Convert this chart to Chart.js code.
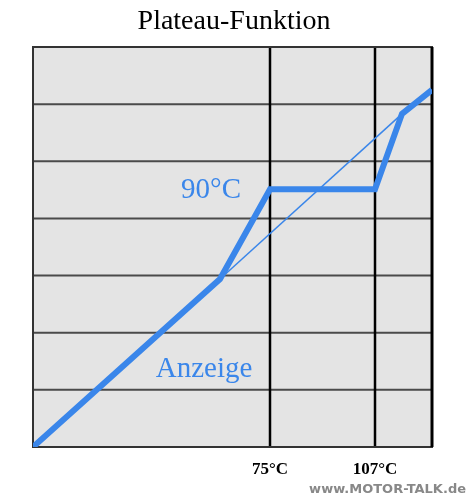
<!DOCTYPE html>
<html><head><meta charset="utf-8">
<script src="https://cdn.jsdelivr.net/npm/chart.js@4"></script>
<style>html,body{margin:0;padding:0;background:#fff}#c{display:block}</style>
</head><body>
<canvas id="c" width="469" height="500"></canvas>
<script>
const title = "Plateau-Funktion";
const displayX = [0, 187, 237, 342, 369, 399];
const displayY = [0, 2.94, 4.51, 4.51, 5.83, 6.25];
const linearX = [187, 369];
const linearY = [2.94, 5.83];
const markerX = [237, 342];
const markerLabels = ["75°C", "107°C"];
const gridY = [1, 2, 3, 4, 5, 6];
const blue = "#3a86ea";

const deco = {
  id: "deco",
  beforeDatasetsDraw(ch) {
    const {ctx, chartArea: a, scales: {x, y}} = ch;
    ctx.save();
    ctx.fillStyle = "#e4e4e4";
    ctx.fillRect(a.left, a.top, a.width, a.height);
    ctx.strokeStyle = "#4a4a4a"; ctx.lineWidth = 2;
    gridY.forEach(v => { const p = y.getPixelForValue(v); ctx.beginPath(); ctx.moveTo(a.left, p); ctx.lineTo(a.right, p); ctx.stroke(); });
    ctx.strokeStyle = "#000"; ctx.lineWidth = 2.5;
    markerX.forEach(v => { const p = x.getPixelForValue(v); ctx.beginPath(); ctx.moveTo(p, a.top); ctx.lineTo(p, a.bottom); ctx.stroke(); });
    ctx.strokeStyle = "#333"; ctx.lineWidth = 2;
    ctx.strokeRect(a.left, a.top, a.width, a.height);
    ctx.strokeStyle = "#000"; ctx.lineWidth = 3;
    ctx.beginPath(); ctx.moveTo(a.right, a.top); ctx.lineTo(a.right, a.bottom); ctx.stroke();
    ctx.restore();
  },
  afterDatasetsDraw(ch) {
    const {ctx, chartArea: a, scales: {x, y}} = ch;
    ctx.save();
    ctx.fillStyle = "#000"; ctx.textAlign = "center"; ctx.textBaseline = "middle";
    ctx.font = "28px 'Liberation Serif', serif";
    ctx.fillText(title, 234, 22);
    ctx.font = "bold 17px 'Liberation Serif', serif";
    markerX.forEach((v, i) => ctx.fillText(markerLabels[i], x.getPixelForValue(v), 470));
    ctx.fillStyle = blue; ctx.font = "29px 'Liberation Serif', serif";
    ctx.fillText("90°C", 211, 190);
    ctx.fillText("Anzeige", 204, 369);
    ctx.fillStyle = "#888"; ctx.font = "bold 13px 'DejaVu Sans', sans-serif"; ctx.textAlign = "right";
    ctx.fillText("www.MOTOR-TALK.de", 466, 490);
    ctx.restore();
  }
};

new Chart(document.getElementById("c"), {
  type: "line",
  data: { datasets: [
    { data: linearX.map((v, i) => ({x: v, y: linearY[i]})), borderColor: blue, borderWidth: 1.5, pointRadius: 0, tension: 0 },
    { data: displayX.map((v, i) => ({x: v, y: displayY[i]})), borderColor: blue, borderWidth: 6, pointRadius: 0, tension: 0, borderJoinStyle: "miter" }
  ]},
  options: {
    responsive: false, animation: false, devicePixelRatio: 1,
    layout: { padding: {left: 33, right: 37, top: 47, bottom: 53} },
    plugins: { legend: {display: false}, tooltip: {enabled: false} },
    scales: {
      x: { type: "linear", min: 0, max: 399, display: false },
      y: { type: "linear", min: 0, max: 7, display: false }
    }
  },
  plugins: [deco]
});
</script>
</body></html>
